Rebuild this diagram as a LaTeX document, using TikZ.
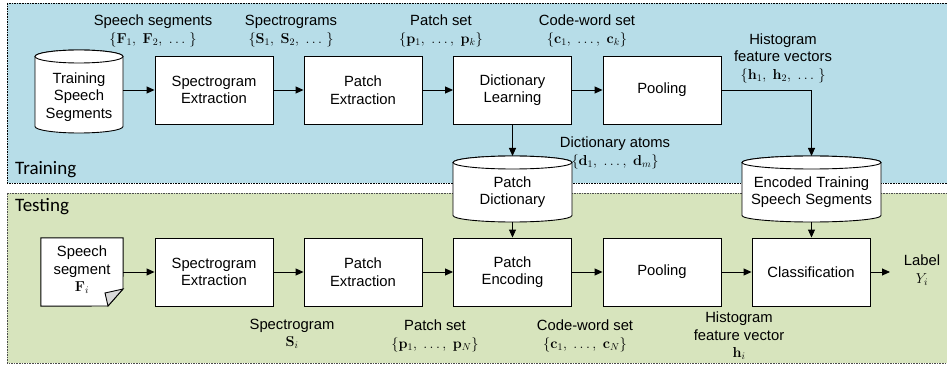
\documentclass[tikz,border=0pt]{standalone}
\usepackage[no-math]{fontspec}
\setmainfont{Liberation Sans}
\newfontfamily\calib{Carlito}
\usetikzlibrary{arrows.meta}
\definecolor{trainbg}{HTML}{B7DDE8}
\definecolor{testbg}{HTML}{D7E4BD}
\definecolor{foldgray}{HTML}{D9D9D9}
\begin{document}
\begin{tikzpicture}[x=1pt,y=1pt,
  font=\fontsize{14.8}{17.5}\selectfont,
  box/.style={draw, fill=white, line width=0.9pt, minimum width=118pt, minimum height=68pt, align=center, inner sep=0pt},
  ghost/.style={draw=none, align=center, inner sep=0pt},
  cylst/.style={draw, fill=white, line width=0.9pt},
  arr/.style={line width=0.9pt, -{Triangle[length=8pt,width=7pt]}},
  lbl/.style={align=center, inner sep=0pt},
  panel/.style={line width=0.8pt, dash pattern=on 1.6pt off 1pt},
  sect/.style={font=\calib\fontsize{19}{22}\selectfont, anchor=west, inner sep=0pt}]
\useasboundingbox (0,0) rectangle (947,-366);
% panels
\draw[panel, fill=trainbg] (7,-3) rectangle (952,-183);
\draw[panel, fill=testbg, draw=black!70] (7,-193) rectangle (952,-363);
\node[sect] (trainlbl) at (15,-170) {Training};
\node[sect] (testlbl) at (15,-207) {Testing};

% ---- Training row ----
\draw[cylst] (35,-56.5) -- (35,-126.5) arc (180:360:44 and 6.5) -- (123,-56.5) arc (0:180:44 and 6.5) -- cycle;
\draw[cylst] (79,-56.5) ellipse (44 and 6.5);
\node[ghost, minimum width=88pt, minimum height=83pt] (tss) at (79,-91.5) {};
\node[lbl] (tsstext) at (79,-97) {Training\\Speech\\Segments};

\node[box] (se) at (214,-90) {Spectrogram\\Extraction};
\node[box] (pe) at (363,-90) {Patch\\Extraction};
\node[box] (dl) at (512.5,-90) {Dictionary\\Learning};
\node[box] (pool) at (662,-90) {Pooling};

% Patch dictionary cylinder
\draw[cylst] (453,-162.5) -- (453,-215.5) arc (180:360:59.5 and 6.5) -- (572,-162.5) arc (0:180:59.5 and 6.5) -- cycle;
\draw[cylst] (512.5,-162.5) ellipse (59.5 and 6.5);
\node[lbl] (pd) at (512.5,-192) {Patch\\Dictionary};
\coordinate (pdtop) at (512.5,-156);
\coordinate (pdbot) at (512.5,-222);

% Encoded training cylinder
\draw[cylst] (742,-162.5) -- (742,-215.5) arc (180:360:69.5 and 6.5) -- (881,-162.5) arc (0:180:69.5 and 6.5) -- cycle;
\draw[cylst] (811.5,-162.5) ellipse (69.5 and 6.5);
\node[lbl] (ets) at (811.5,-192) {Encoded Training\\Speech Segments};
\coordinate (etstop) at (811.5,-156);
\coordinate (etsbot) at (811.5,-222);
\coordinate (poolturn) at (811.5,-90);

\draw[arr] (tss.east |- se.west) -- (se.west);
\draw[arr] (se) -- (pe);
\draw[arr] (pe) -- (dl);
\draw[arr] (dl) -- (pool);
\draw[arr] (dl.south) -- (pdtop);
\draw[arr] (pool.east) -- (poolturn) -- (etstop);

% training labels
\node[lbl] (l1) at (153,-31) {Speech segments\\$\{\mathbf{F}_1,\ \mathbf{F}_2,\ \dots\ \}$};
\node[lbl] (l2) at (291,-31) {Spectrograms\\$\{\mathbf{S}_1,\ \mathbf{S}_2,\ \dots\ \}$};
\node[lbl] (l3) at (441,-31) {Patch set\\$\{\mathbf{p}_1,\ \dots,\ \mathbf{p}_k\}$};
\node[lbl] (l4) at (587,-31) {Code-word set\\$\{\mathbf{c}_1,\ \dots,\ \mathbf{c}_k\}$};
\node[lbl] (l5) at (783,-58) {Histogram\\feature vectors\\$\{\mathbf{h}_1,\ \mathbf{h}_2,\ \dots\ \}$};
\node[lbl] (l6) at (615,-153) {Dictionary atoms\\$\{\mathbf{d}_1,\ \dots,\ \mathbf{d}_m\}$};

% ---- Testing row ----
\node[ghost, minimum width=82pt, minimum height=68pt] (doc) at (82,-272) {};
\draw[cylst] (doc.north west) -- (doc.north east) -- (123,-289) -- (108,-306) -- (doc.south west) -- cycle;
\draw[line width=0.9pt, fill=foldgray] (123,-289) -- (105,-293) -- (108,-306) -- cycle;
\node[lbl] (doctext) at (82,-270) {Speech\\segment\\$\mathbf{F}_i$};

\node[box] (se2) at (214,-272) {Spectrogram\\Extraction};
\node[box] (pe2) at (363,-272) {Patch\\Extraction};
\node[box] (penc) at (512.5,-272) {Patch\\Encoding};
\node[box] (pool2) at (662,-272) {Pooling};
\node[box] (cls) at (811,-272) {Classification};
\coordinate (labend) at (890,-272);

\draw[arr] (doc.east) -- (se2.west);
\draw[arr] (se2) -- (pe2);
\draw[arr] (pe2) -- (penc);
\draw[arr] (penc) -- (pool2);
\draw[arr] (pool2) -- (cls);
\draw[arr] (cls.east) -- (labend);
\draw[arr] (pdbot) -- (penc.north);
\draw[arr] (etsbot) -- (etsbot |- cls.north);

% testing labels
\node[lbl] (t1) at (292,-334) {Spectrogram\\$\mathbf{S}_i$};
\node[lbl] (t2) at (435,-336) {Patch set\\$\{\mathbf{p}_1,\ \dots,\ \mathbf{p}_N\}$};
\node[lbl] (t3) at (585,-336) {Code-word set\\$\{\mathbf{c}_1,\ \dots,\ \mathbf{c}_N\}$};
\node[lbl] (t4) at (739,-336) {Histogram\\feature vector\\$\mathbf{h}_i$};
\node[lbl] (t5) at (922,-270) {Label\\$Y_i$};
\end{tikzpicture}
\end{document}
